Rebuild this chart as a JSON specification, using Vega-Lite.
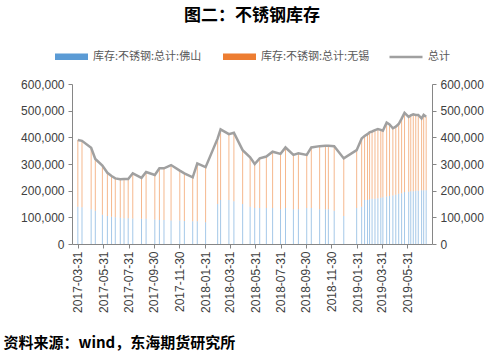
{
  "$schema": "https://vega.github.io/schema/vega-lite/v6.json",
  "width": 360,
  "height": 160,
  "autosize": {"type": "none"},
  "padding": {"left": 72, "top": 84, "right": 68, "bottom": 108},
  "background": "white",
  "title": {"text": "图二：不锈钢库存", "anchor": "middle", "font": "Noto Sans CJK SC", "fontSize": 17, "fontWeight": "bold", "color": "#000000", "offset": 14},
  "data": {"values": [
    {"date": "2017-03-31", "fs": 140000, "wx": 250000, "total": 390000},
    {"date": "2017-04-10", "fs": 138000, "wx": 249000, "total": 387000},
    {"date": "2017-05-02", "fs": 130000, "wx": 231000, "total": 361000},
    {"date": "2017-05-12", "fs": 125000, "wx": 194000, "total": 319000},
    {"date": "2017-05-29", "fs": 110000, "wx": 184000, "total": 294000},
    {"date": "2017-06-10", "fs": 105000, "wx": 162000, "total": 267000},
    {"date": "2017-06-20", "fs": 102000, "wx": 153000, "total": 255000},
    {"date": "2017-06-29", "fs": 100000, "wx": 146000, "total": 246000},
    {"date": "2017-07-11", "fs": 98000, "wx": 145000, "total": 243000},
    {"date": "2017-07-20", "fs": 97000, "wx": 147000, "total": 244000},
    {"date": "2017-07-30", "fs": 97000, "wx": 147000, "total": 244000},
    {"date": "2017-08-10", "fs": 96000, "wx": 169000, "total": 265000},
    {"date": "2017-08-31", "fs": 95000, "wx": 153000, "total": 248000},
    {"date": "2017-09-11", "fs": 95000, "wx": 175000, "total": 270000},
    {"date": "2017-10-02", "fs": 92000, "wx": 167000, "total": 259000},
    {"date": "2017-10-13", "fs": 90000, "wx": 194000, "total": 284000},
    {"date": "2017-10-24", "fs": 90000, "wx": 194000, "total": 284000},
    {"date": "2017-11-10", "fs": 88000, "wx": 208000, "total": 296000},
    {"date": "2017-12-01", "fs": 88000, "wx": 187000, "total": 275000},
    {"date": "2017-12-12", "fs": 86000, "wx": 179000, "total": 265000},
    {"date": "2018-01-01", "fs": 85000, "wx": 165000, "total": 250000},
    {"date": "2018-01-12", "fs": 85000, "wx": 217000, "total": 302000},
    {"date": "2018-02-01", "fs": 82000, "wx": 206000, "total": 288000},
    {"date": "2018-03-02", "fs": 150000, "wx": 246000, "total": 396000},
    {"date": "2018-03-09", "fs": 165000, "wx": 265000, "total": 430000},
    {"date": "2018-03-29", "fs": 165000, "wx": 247000, "total": 412000},
    {"date": "2018-04-10", "fs": 160000, "wx": 257000, "total": 417000},
    {"date": "2018-05-01", "fs": 150000, "wx": 202000, "total": 352000},
    {"date": "2018-05-19", "fs": 140000, "wx": 185000, "total": 325000},
    {"date": "2018-05-30", "fs": 135000, "wx": 165000, "total": 300000},
    {"date": "2018-06-11", "fs": 135000, "wx": 186000, "total": 321000},
    {"date": "2018-06-27", "fs": 135000, "wx": 193000, "total": 328000},
    {"date": "2018-07-12", "fs": 135000, "wx": 211000, "total": 346000},
    {"date": "2018-07-31", "fs": 130000, "wx": 208000, "total": 338000},
    {"date": "2018-08-12", "fs": 135000, "wx": 227000, "total": 362000},
    {"date": "2018-08-31", "fs": 130000, "wx": 204000, "total": 334000},
    {"date": "2018-09-12", "fs": 130000, "wx": 210000, "total": 340000},
    {"date": "2018-10-02", "fs": 135000, "wx": 199000, "total": 334000},
    {"date": "2018-10-13", "fs": 135000, "wx": 227000, "total": 362000},
    {"date": "2018-11-02", "fs": 130000, "wx": 237000, "total": 367000},
    {"date": "2018-11-16", "fs": 130000, "wx": 238000, "total": 368000},
    {"date": "2018-11-23", "fs": 130000, "wx": 238000, "total": 368000},
    {"date": "2018-12-07", "fs": 125000, "wx": 242000, "total": 367000},
    {"date": "2018-12-30", "fs": 105000, "wx": 216000, "total": 321000},
    {"date": "2019-01-30", "fs": 135000, "wx": 217000, "total": 352000},
    {"date": "2019-02-11", "fs": 140000, "wx": 256000, "total": 396000},
    {"date": "2019-02-18", "fs": 165000, "wx": 240000, "total": 405000},
    {"date": "2019-02-25", "fs": 165000, "wx": 247000, "total": 412000},
    {"date": "2019-03-02", "fs": 168000, "wx": 251000, "total": 419000},
    {"date": "2019-03-08", "fs": 170000, "wx": 252000, "total": 422000},
    {"date": "2019-03-15", "fs": 170000, "wx": 257000, "total": 427000},
    {"date": "2019-03-22", "fs": 172000, "wx": 259000, "total": 431000},
    {"date": "2019-03-29", "fs": 173000, "wx": 255000, "total": 428000},
    {"date": "2019-04-03", "fs": 175000, "wx": 250000, "total": 425000},
    {"date": "2019-04-12", "fs": 178000, "wx": 277000, "total": 455000},
    {"date": "2019-04-19", "fs": 180000, "wx": 268000, "total": 448000},
    {"date": "2019-04-27", "fs": 182000, "wx": 252000, "total": 434000},
    {"date": "2019-05-04", "fs": 185000, "wx": 255000, "total": 440000},
    {"date": "2019-05-11", "fs": 188000, "wx": 262000, "total": 450000},
    {"date": "2019-05-18", "fs": 190000, "wx": 280000, "total": 470000},
    {"date": "2019-05-25", "fs": 195000, "wx": 297000, "total": 492000},
    {"date": "2019-06-04", "fs": 196000, "wx": 281000, "total": 477000},
    {"date": "2019-06-09", "fs": 198000, "wx": 284000, "total": 482000},
    {"date": "2019-06-15", "fs": 198000, "wx": 288000, "total": 486000},
    {"date": "2019-06-21", "fs": 200000, "wx": 284000, "total": 484000},
    {"date": "2019-06-27", "fs": 200000, "wx": 284000, "total": 484000},
    {"date": "2019-07-05", "fs": 202000, "wx": 269000, "total": 471000},
    {"date": "2019-07-10", "fs": 202000, "wx": 282000, "total": 484000},
    {"date": "2019-07-16", "fs": 202000, "wx": 275000, "total": 477000}
  ]},
  "encoding": {
    "x": {
      "field": "date", "type": "temporal",
      "scale": {"type": "utc", "domain": [{"year": 2017, "month": 3, "date": 29, "utc": true}, {"year": 2019, "month": 7, "date": 18, "utc": true}]},
      "axis": {
        "values": [
          {"year": 2017, "month": 3, "date": 31, "utc": true},
          {"year": 2017, "month": 5, "date": 31, "utc": true},
          {"year": 2017, "month": 7, "date": 31, "utc": true},
          {"year": 2017, "month": 9, "date": 30, "utc": true},
          {"year": 2017, "month": 11, "date": 30, "utc": true},
          {"year": 2018, "month": 1, "date": 31, "utc": true},
          {"year": 2018, "month": 3, "date": 31, "utc": true},
          {"year": 2018, "month": 5, "date": 31, "utc": true},
          {"year": 2018, "month": 7, "date": 31, "utc": true},
          {"year": 2018, "month": 9, "date": 30, "utc": true},
          {"year": 2018, "month": 11, "date": 30, "utc": true},
          {"year": 2019, "month": 1, "date": 31, "utc": true},
          {"year": 2019, "month": 3, "date": 31, "utc": true},
          {"year": 2019, "month": 5, "date": 31, "utc": true}
        ],
        "format": "%Y-%m-%d",
        "labelAngle": -90,
        "labelAlign": "right",
        "labelBaseline": "middle",
        "labelFont": "Liberation Sans",
        "labelFontSize": 12,
        "labelColor": "#404040",
        "labelPadding": 3,
        "tickSize": 4,
        "tickColor": "#868686",
        "domainColor": "#868686",
        "grid": false,
        "title": "资料来源：wind，东海期货研究所",
        "titleFont": "Noto Sans CJK SC",
        "titleFontSize": 15,
        "titleFontWeight": "bold",
        "titleColor": "#000000",
        "titleAngle": 0,
        "titleAlign": "left",
        "titleBaseline": "middle",
        "titleX": -69,
        "titleY": 98
      }
    }
  },
  "layer": [
    {
      "transform": [{"fold": ["fs", "wx"], "as": ["series", "value"]}],
      "mark": {"type": "bar", "size": 1, "opacity": 0.55},
      "encoding": {
        "y": {
          "field": "value", "type": "quantitative", "stack": "zero",
          "scale": {"domain": [0, 600000]},
          "axis": {"values": [0, 100000, 200000, 300000, 400000, 500000, 600000], "format": ",d", "grid": false, "title": null, "labelFont": "Liberation Sans", "labelFontSize": 12, "labelColor": "#404040", "tickSize": 4, "tickColor": "#868686", "domainColor": "#868686", "labelPadding": 4}
        },
        "color": {
          "field": "series", "type": "nominal",
          "scale": {"domain": ["fs", "wx"], "range": ["#5B9BD5", "#ED7D31"]},
          "legend": {
            "orient": "top", "direction": "horizontal", "title": null,
            "labelExpr": "datum.value == 'fs' ? '库存:不锈钢:总计:佛山' : '库存:不锈钢:总计:无锡'",
            "symbolType": "M-1,-0.2H1V0.2H-1Z", "symbolSize": 1089, "symbolOpacity": 1,
            "labelFont": "Noto Sans CJK SC", "labelFontSize": 11, "labelColor": "#595959",
            "columnPadding": 20, "offset": 22
          }
        },
        "order": {"field": "series", "sort": "ascending"}
      }
    },
    {
      "mark": {"type": "line", "strokeWidth": 2.5, "interpolate": "linear"},
      "encoding": {
        "y": {
          "field": "total", "type": "quantitative",
          "scale": {"domain": [0, 600000]},
          "axis": {"orient": "right", "values": [0, 100000, 200000, 300000, 400000, 500000, 600000], "format": ",d", "grid": false, "title": null, "labelFont": "Liberation Sans", "labelFontSize": 12, "labelColor": "#404040", "tickSize": 4, "tickColor": "#868686", "domainColor": "#868686", "labelPadding": 4}
        },
        "stroke": {
          "datum": "总计",
          "scale": {"domain": ["总计"], "range": ["#A0A0A0"]},
          "legend": {
            "orient": "top", "title": null,
            "symbolType": "M-1,0H1", "symbolSize": 1089, "symbolStrokeWidth": 2.5,
            "labelFont": "Noto Sans CJK SC", "labelFontSize": 11, "labelColor": "#595959",
            "offset": 22
          }
        }
      }
    }
  ],
  "resolve": {"axis": {"y": "independent"}},
  "config": {
    "view": {"stroke": null},
    "legend": {"layout": {"top": {"anchor": "middle", "direction": "horizontal", "margin": 18}}}
  }
}
